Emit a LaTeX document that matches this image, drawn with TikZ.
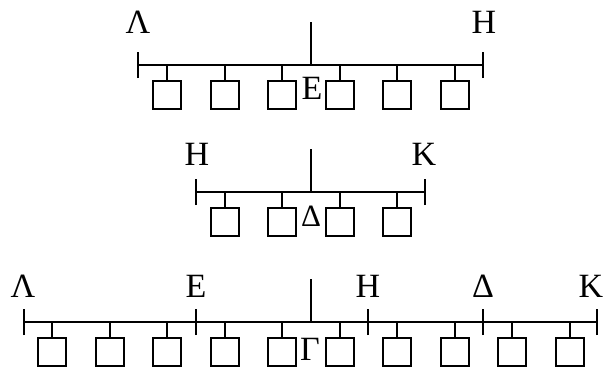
\documentclass[tikz,border=0pt]{standalone}
\usepackage{fontspec}
\setmainfont{Liberation Serif}
\begin{document}
\begin{tikzpicture}[x=1pt,y=-1pt,line width=2pt,
  unit/.style={draw,minimum size=28pt,inner sep=0pt,outer sep=0pt},
  lbl/.style={font=\fontsize{34}{34}\selectfont,anchor=base,inner sep=0pt},
  slbl/.style={font=\fontsize{31}{31}\selectfont,anchor=base,inner sep=0pt}]
\useasboundingbox (0,0) rectangle (605,368);
% ---------- row 1 ----------
\coordinate (r1L) at (138,65);
\coordinate (r1R) at (483,65);
\coordinate (r1S) at (311,22);
\draw (r1L) -- (r1R);
\draw (r1S) -- (r1S |- r1L);
\draw ([yshift=-13pt]r1L) -- ([yshift=13pt]r1L);
\draw ([yshift=-13pt]r1R) -- ([yshift=13pt]r1R);
\foreach \i/\x in {3/167,4/225,5/282,6/340,7/397,8/455}{
  \node[unit] (r1b\i) at (\x,95) {};
  \draw (r1b\i.north) -- (r1b\i.north |- r1L);
}
\node[lbl] (r1lam) at (138,33) {Λ};
\node[lbl] (r1eta) at (484,33) {Η};
\node[lbl] (r1eps) at (312,99) {Ε};
% ---------- row 2 ----------
\coordinate (r2L) at (196,192);
\coordinate (r2R) at (425,192);
\coordinate (r2S) at (311,149);
\draw (r2L) -- (r2R);
\draw (r2S) -- (r2S |- r2L);
\draw ([yshift=-13pt]r2L) -- ([yshift=13pt]r2L);
\draw ([yshift=-13pt]r2R) -- ([yshift=13pt]r2R);
\foreach \i/\x in {4/225,5/282,6/340,7/397}{
  \node[unit] (r2b\i) at (\x,222) {};
  \draw (r2b\i.north) -- (r2b\i.north |- r2L);
}
\node[lbl] (r2eta) at (197,165) {Η};
\node[lbl] (r2kap) at (424,165) {Κ};
\node[slbl] (r2del) at (311,226) {Δ};
% ---------- row 3 ----------
\coordinate (r3L) at (24,322);
\coordinate (r3E) at (196,322);
\coordinate (r3H) at (368,322);
\coordinate (r3D) at (483,322);
\coordinate (r3R) at (597,322);
\coordinate (r3S) at (311,279);
\draw (r3L) -- (r3R);
\draw (r3S) -- (r3S |- r3L);
\foreach \c in {r3L,r3E,r3H,r3D,r3R}{
  \draw ([yshift=-13pt]\c) -- ([yshift=13pt]\c);
}
\foreach \i/\x in {1/52,2/110,3/167,4/225,5/282,6/340,7/397,8/455,9/512,10/570}{
  \node[unit] (r3b\i) at (\x,352) {};
  \draw (r3b\i.north) -- (r3b\i.north |- r3L);
}
\node[lbl] (r3lam) at (23,297) {Λ};
\node[lbl] (r3eps) at (196,297) {Ε};
\node[lbl] (r3eta) at (368,297) {Η};
\node[lbl] (r3del) at (483,297) {Δ};
\node[lbl] (r3kap) at (591,297) {Κ};
\node[lbl] (r3gam) at (310,360) {Γ};
\end{tikzpicture}
\end{document}
